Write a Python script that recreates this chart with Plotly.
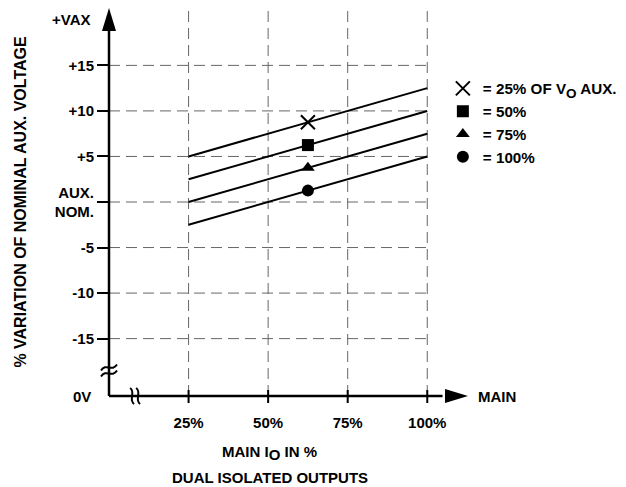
import plotly.graph_objects as go

# ---------------- data ----------------
line_load = [25, 100]                      # main output current (%) at line ends
aux_25 = [5.0, 12.5]                       # % variation of nominal aux voltage
aux_50 = [2.5, 10.0]
aux_75 = [0.0, 7.5]
aux_100 = [-2.5, 5.0]
series_names = ['= 25% OF V<sub><span style="font-size:13.5px">O</span></sub> AUX.',
                "= 50%", "= 75%", "= 100%"]
series_symbols = ["x-thin", "square", "triangle-up", "circle"]

marker_load = [62.5]
marker_25 = [8.75]
marker_50 = [6.25]
marker_75 = [3.75]
marker_100 = [1.25]

x_tick_vals = [25, 50, 75, 100]
x_tick_text = ["25%", "50%", "75%", "100%"]
y_tick_vals = [15, 10, 5, 0, -5, -10, -15]
y_tick_text = ["+15", "+10", "+5", "AUX.<br>NOM.", "-5", "-10", "-15"]

# axis extents (layout)
X_LEFT = 0
X_RIGHT = 112.8     # arrow tip
Y_BOTTOM = -21.3    # "0V" level (broken axis)
Y_TOP = 21.3        # arrow tip
GRID_TOP = 21.2
Y_BREAK = -18.5
X_BREAK = 8.2
VAX_LEVEL = 20.0


def fx(v):
    return (v - X_LEFT) / (X_RIGHT - X_LEFT)


def fy(v):
    return (v - Y_BOTTOM) / (Y_TOP - Y_BOTTOM)


FONT = dict(family="Liberation Sans, Arial, sans-serif", size=15, color="black", weight="bold")
FONT16 = dict(FONT, size=16)
FONT_LEG = dict(FONT, size=15.2)

fig = go.Figure()

lines = [aux_25, aux_50, aux_75, aux_100]
marks = [marker_25, marker_50, marker_75, marker_100]
for vals in lines:
    fig.add_trace(go.Scatter(x=line_load, y=vals, mode="lines",
                             line=dict(color="black", width=2),
                             showlegend=False, hoverinfo="skip"))
for name, sym, mv in zip(series_names, series_symbols, marks):
    is_x = sym == "x-thin"
    fig.add_trace(go.Scatter(
        x=marker_load, y=mv, mode="markers", name=name,
        marker=dict(symbol=sym, size=14 if is_x else 12, color="black",
                    line=dict(color="black", width=2 if is_x else 0)),
    ))

shapes = []
grid = dict(color="#666666", width=1, dash="11px,6px")
for yv in y_tick_vals:
    shapes.append(dict(type="line", xref="x", yref="y", x0=0, x1=x_tick_vals[-1],
                       y0=yv, y1=yv, line=grid, layer="below"))
for xv in x_tick_vals:
    shapes.append(dict(type="line", xref="x", yref="y", x0=xv, x1=xv,
                       y0=Y_BOTTOM, y1=GRID_TOP, line=grid, layer="below"))

D = dict(xref="x domain", yref="y domain")
PIX = dict(D, xsizemode="pixel", ysizemode="pixel")
black2 = dict(color="black", width=2)

# crossing tick marks on the x axis
for xv in x_tick_vals:
    shapes.append(dict(PIX, type="line", xanchor=fx(xv), yanchor=fy(Y_BOTTOM),
                       x0=0, x1=0, y0=-7, y1=6, line=black2))

axis_line = dict(color="black", width=2.5)
shapes.append(dict(D, type="line", x0=fx(0), x1=fx(0), y0=fy(Y_BOTTOM), y1=fy(Y_TOP - 2),
                   line=axis_line))
shapes.append(dict(D, type="line", x0=fx(0), x1=fx(X_RIGHT - 8), y0=fy(Y_BOTTOM), y1=fy(Y_BOTTOM),
                   line=axis_line))
# arrow heads
shapes.append(dict(PIX, type="path", xanchor=fx(0), yanchor=fy(Y_TOP),
                   path="M0,0 L-7,-23 L7,-23 Z", fillcolor="black", line=dict(width=0)))
shapes.append(dict(PIX, type="path", xanchor=fx(X_RIGHT), yanchor=fy(Y_BOTTOM),
                   path="M0,0 L-23,7 L-23,-7 Z", fillcolor="black", line=dict(width=0)))
# axis break marks
for off in (-3, 3):
    shapes.append(dict(PIX, type="path", xanchor=fx(0), yanchor=fy(Y_BREAK),
                       path=f"M-8,{off-3} C-3,{off+5} 3,{off-5} 8,{off+3}", line=black2))
    shapes.append(dict(PIX, type="path", xanchor=fx(X_BREAK), yanchor=fy(Y_BOTTOM),
                       path=f"M{off-2},8 C{off+4},4 {off-4},-4 {off+2},-8", line=black2))

annotations = [
    dict(text="+VAX", xref="x", yref="y", x=0, y=VAX_LEVEL, xanchor="right", yanchor="middle",
         xshift=-16, showarrow=False),
    dict(text="0V", xref="x", yref="y", x=0, y=Y_BOTTOM, xanchor="right", yanchor="middle",
         xshift=-16, showarrow=False),
    dict(text="MAIN", xref="x", yref="y", x=X_RIGHT, y=Y_BOTTOM, xanchor="left", yanchor="middle",
         xshift=8, showarrow=False),
    dict(text='MAIN I<sub><span style="font-size:15px">O</span></sub> IN %',
         xref="paper", yref="paper", x=0.448, y=0, font=FONT,
         xanchor="center", yanchor="middle", yshift=-57, showarrow=False),
    dict(text="DUAL ISOLATED OUTPUTS", xref="paper", yref="paper", x=0.448, y=0, font=FONT,
         xanchor="center", yanchor="middle", yshift=-81, showarrow=False),
    dict(text="% VARIATION OF NOMINAL AUX. VOLTAGE", xref="paper", yref="y", x=-0.249, y=0,
         font=FONT16, xanchor="center", yanchor="middle", textangle=-90, showarrow=False),
]

fig.update_layout(
    width=618, height=479,
    margin=dict(l=101, r=158, t=0, b=91, pad=0),
    paper_bgcolor="white", plot_bgcolor="white",
    font=FONT,
    shapes=shapes,
    annotations=annotations,
    showlegend=True,
    legend=dict(x=0.930, y=0.835, xanchor="left", yanchor="top",
                bgcolor="rgba(0,0,0,0)", font=FONT_LEG, itemsizing="trace"),
    xaxis=dict(range=[X_LEFT, X_RIGHT], tickvals=x_tick_vals, ticktext=x_tick_text,
               showgrid=False, zeroline=False, showline=False, ticks="",
               ticklabelstandoff=16, tickfont=FONT, fixedrange=True),
    yaxis=dict(range=[Y_BOTTOM, Y_TOP], tickvals=y_tick_vals, ticktext=y_tick_text,
               showgrid=False, zeroline=False, showline=False, ticks="outside",
               ticklen=11, tickwidth=2, tickcolor="black", tickfont=FONT, fixedrange=True),
)

fig.write_html("out.html")
